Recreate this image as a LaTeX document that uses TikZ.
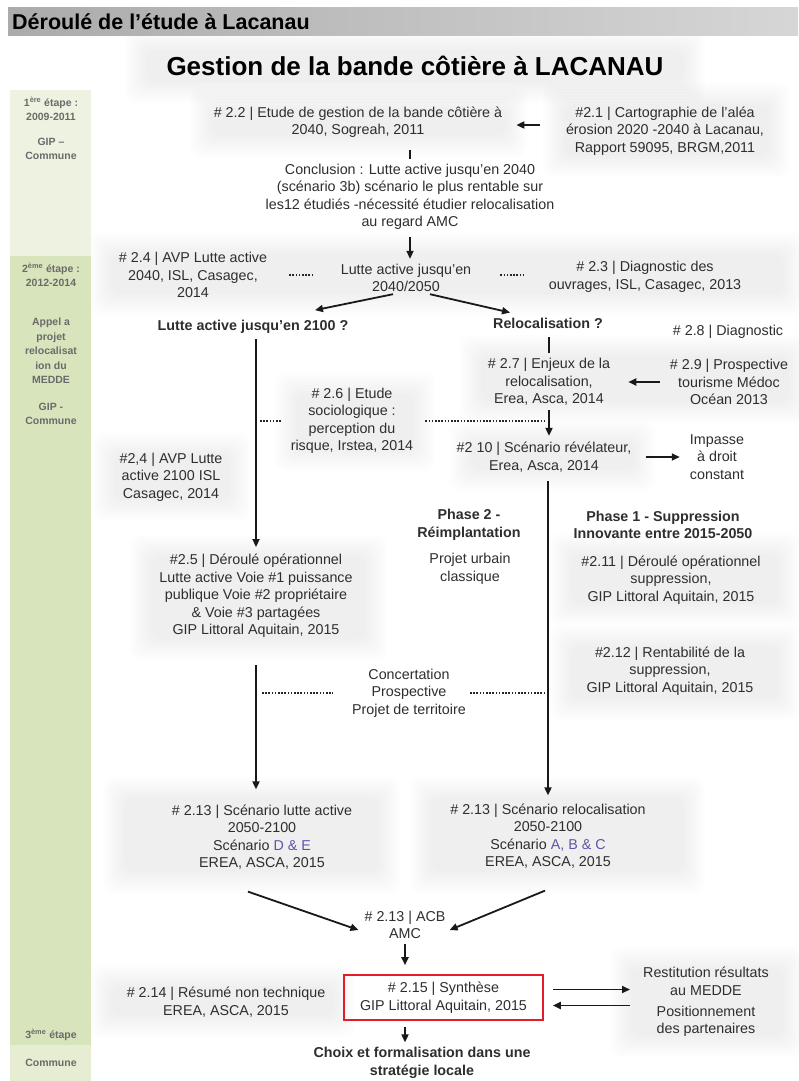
\documentclass[tikz,border=0pt]{standalone}
\usepackage{fontspec}
\setmainfont{Liberation Sans}
\usetikzlibrary{arrows.meta}
\definecolor{purp}{RGB}{100,80,170}
\definecolor{sideA}{RGB}{238,242,224}
\definecolor{sideB}{RGB}{216,228,188}
\definecolor{sideC}{RGB}{230,237,210}
\definecolor{boxred}{RGB}{225,30,40}
\newcommand\hazebox[4]{%
  \foreach \k in {0,1,2,3,4,5,6,7}{%
    \fill[black, opacity=0.007, rounded corners=10pt] (#1-\k*3+6,#2-\k*3+6) rectangle (#3+\k*3-6,#4+\k*3-6);}}
\begin{document}
\begin{tikzpicture}[x=1pt,y=-1pt,
  txt/.style={font=\fontsize{14.3}{17.5}\selectfont, align=center, text=black!82, inner sep=2pt},
  bt/.style={txt, font=\fontsize{14.3}{17.5}\selectfont\bfseries},
  side/.style={font=\fontsize{10.5}{14.5}\selectfont\bfseries, text=black!58, align=center, inner sep=1pt},
  arr/.style={-{Triangle[length=8pt,width=7pt]}, line width=1.8pt, black!90},
  tick/.style={line width=2pt, black!90},
  dots/.style={line width=1.6pt, dash pattern=on 1.6pt off 1.6pt, black!85},
]
\useasboundingbox (0,0) rectangle (798,1081);
\fill[white] (0,0) rectangle (798,1081);
% soft grey haze
\hazebox{140}{44}{690}{88}
\hazebox{205}{102}{512}{142}
\hazebox{558}{98}{775}{162}
\hazebox{105}{248}{790}{300}
\hazebox{475}{350}{795}{408}
\hazebox{290}{388}{420}{456}
\hazebox{465}{436}{640}{476}
\hazebox{108}{448}{236}{506}
\hazebox{145}{550}{372}{645}
\hazebox{565}{548}{785}{610}
\hazebox{565}{640}{785}{705}
\hazebox{118}{792}{385}{878}
\hazebox{425}{792}{690}{878}
\hazebox{105}{980}{340}{1022}
\hazebox{625}{962}{790}{1042}
% header
\fill[left color=black!33, right color=black!16] (8,8) rectangle (798,36);
\node[anchor=west, font=\fontsize{21.5}{24}\selectfont\bfseries, inner sep=0pt] (hdr) at (12,22) {Déroulé de l'étude à Lacanau};
\node[font=\fontsize{26}{30}\selectfont\bfseries, inner sep=0pt] (title) at (415,66) {Gestion de la bande côtière à LACANAU};
% sidebar
\fill[sideA] (10,90) rectangle (91,256);
\fill[sideB] (10,256) rectangle (91,1045);
\fill[sideC] (10,1045) rectangle (91,1081);
\node[side] (s1) at (51,109) {1\textsuperscript{ère} étape :\\2009-2011};
\node[side] (s2) at (51,149) {GIP –\\Commune};
\node[side] (s3) at (51,275) {2\textsuperscript{ème} étape :\\2012-2014};
\node[side] (s4) at (51,351) {Appel a\\projet\\relocalisat\\ion du\\MEDDE};
\node[side] (s5) at (51,414) {GIP -\\Commune};
\node[side] (s6) at (51,1035) {3\textsuperscript{ème} étape};
\node[side] (s7) at (51,1063) {Commune};
% nodes
\node[txt] (n22) at (358,122) {\# 2.2 | Etude de gestion de la bande côtière à\\2040, Sogreah, 2011};
\node[txt] (n21) at (665,131) {\#2.1 | Cartographie de l'aléa\\érosion  2020 -2040 à Lacanau,\\Rapport 59095, BRGM,2011};
\node[txt] (concl) at (410,197) {Conclusion : Lutte active jusqu'en 2040\\(scénario 3b) scénario le plus  rentable sur\\les12 étudiés -nécessité étudier relocalisation\\au regard AMC};
\node[txt] (n24a) at (193,275) {\# 2.4 | AVP Lutte active\\2040,  ISL, Casagec,\\2014};
\node[txt] (lutte2040) at (406,278) {Lutte active jusqu'en\\2040/2050};
\node[txt] (n23) at (645,277) {\# 2.3 | Diagnostic des\\ouvrages, ISL, Casagec, 2013};
\node[bt] (lutte2100) at (253,327) {Lutte active  jusqu'en 2100 ?};
\node[bt] (reloc) at (548,323) {Relocalisation  ?};
\node[txt] (n28) at (728,332) {\# 2.8 | Diagnostic};
\node[txt] (n27) at (549,382) {\# 2.7 | Enjeux de la\\relocalisation,\\Erea, Asca, 2014};
\node[txt] (n29) at (729,382) {\# 2.9 | Prospective\\tourisme  Médoc\\Océan 2013};
\node[txt] (n26) at (352,421) {\# 2.6 | Etude\\sociologique :\\perception du\\risque, Irstea, 2014};
\node[txt] (n210) at (544,457) {\#2 10 | Scénario révélateur,\\Erea, Asca, 2014};
\node[txt] (impasse) at (717,457) {Impasse\\à droit\\constant};
\node[txt] (n24b) at (171,477) {\#2,4 | AVP Lutte\\active  2100 ISL\\Casagec, 2014};
\node[bt] (phase2) at (469,525) {Phase 2 -\\Réimplantation};
\node[txt] (urbain) at (470,569) {Projet urbain\\classique};
\node[bt] (phase1) at (663,525) {Phase 1 - Suppression\\Innovante entre 2015-2050};
\node[txt] (n211) at (671,580) {\#2.11 | Déroulé opérationnel\\suppression,\\GIP Littoral Aquitain, 2015};
\node[txt] (n212) at (670,671) {\#2.12 | Rentabilité de la\\suppression,\\GIP Littoral Aquitain, 2015};
\node[txt] (n25) at (256,596) {\#2.5 | Déroulé opérationnel\\Lutte active Voie \#1 puissance\\publique  Voie \#2 propriétaire\\\& Voie \#3 partagées\\GIP Littoral Aquitain, 2015};
\node[txt] (concert) at (409,693) {Concertation\\Prospective\\Projet de territoire};
\node[txt] (n213a) at (262,837) {\# 2.13 | Scénario lutte active\\2050-2100\\Scénario {\color{purp}D \& E}\\EREA, ASCA, 2015};
\node[txt] (n213b) at (548,836) {\# 2.13 | Scénario relocalisation\\2050-2100\\Scénario {\color{purp}A, B \& C}\\EREA, ASCA, 2015};
\node[txt] (n213c) at (405,925) {\# 2.13 | ACB\\AMC};
\node[txt, draw=boxred, line width=1.6pt, minimum width=199pt, minimum height=45pt] (n215) at (443.5,997.5) {\# 2.15 | Synthèse\\GIP Littoral Aquitain, 2015};
\node[txt] (n214) at (226,1002) {\# 2.14 | Résumé non technique\\EREA, ASCA, 2015};
\node[txt] (restit) at (706,981.5) {Restitution résultats\\au MEDDE};
\node[txt] (posit) at (706,1021.5) {Positionnement\\des partenaires};
\node[bt] (choix) at (422,1063) {Choix et formalisation dans une\\stratégie locale};
% connectors
\draw[arr, shorten <=24pt, shorten >=12pt] ([yshift=-3pt]n22.east -| n21.west) -- ([yshift=-3pt]n22.east);
\draw[tick, shorten <=10pt, shorten >=3pt] (n22.south -| concl.north) -- (concl.north);
\draw[arr, shorten <=5pt, shorten >=3pt] (concl.south) -- (lutte2040.north -| concl.south);
\draw[dots, shorten <=20pt, shorten >=26pt] (n24a.east) -- (n24a.east -| lutte2040.west);
\draw[dots, shorten <=27pt, shorten >=22pt] (lutte2040.east |- n24a.east) -- (n24a.east -| n23.west);
\draw[arr] ([xshift=-13pt]lutte2040.south) -- ([xshift=62pt,yshift=8pt]lutte2100.north);
\draw[arr] ([xshift=24pt]lutte2040.south) -- ([xshift=-38pt,yshift=3pt]reloc.north);
\draw[tick, shorten <=7pt, shorten >=3pt] (reloc.south -| n27.north) -- (n27.north);
\draw[arr, shorten <=8pt, shorten >=16pt] (n29.west) -- (n29.west -| n27.east);
\draw[arr, shorten <=3pt, shorten >=5pt] (lutte2100.south -| n25.north) -- (n25.north);
\draw[dots, shorten <=4pt, shorten >=7pt] (n26.west -| n25.north) -- (n26.west);
\draw[dots, shorten <=10pt, shorten >=3pt] (n26.east) -- (n26.east -| n27.south);
\draw[arr, shorten <=2pt, shorten >=4pt] (n27.south) -- (n27.south |- n210.north);
\draw[arr, shorten <=12pt, shorten >=8pt] (n210.east) -- (n210.east -| impasse.west);
\draw[arr, shorten <=7pt, shorten >=6pt] (n210.south -| n213b.north) -- (n213b.north);
\draw[arr, shorten <=25pt, shorten >=13pt] (n25.south) -- (n25.south |- n213a.north);
\draw[dots, shorten <=6pt, shorten >=17pt] (concert.west -| n25.south) -- (concert.west);
\draw[dots, shorten <=2pt, shorten >=3pt] (concert.east) -- (concert.east -| n213b.north);
\draw[arr] ([xshift=-14pt,yshift=-20pt]n213a.south) -- ([xshift=-4pt,yshift=-5pt]n213c.west);
\draw[arr] ([xshift=-3pt,yshift=-20pt]n213b.south) -- ([xshift=2pt,yshift=-5pt]n213c.east);
\draw[arr, shorten <=3pt, shorten >=9pt] (n213c.south) -- (n213c.south |- n215.north);
\draw[arr, shorten <=6pt, shorten >=3pt] (n215.south -| n213c.south) -- (choix.north -| n213c.south);
\draw[arr, shorten <=9pt, shorten >=11pt] ([yshift=8pt]n215.east) -- ([yshift=8pt]n215.east -| restit.west);
\draw[arr, shorten <=11pt, shorten >=9pt] ([yshift=-8pt]n215.east -| restit.west) -- ([yshift=-8pt]n215.east);
\end{tikzpicture}
\end{document}
